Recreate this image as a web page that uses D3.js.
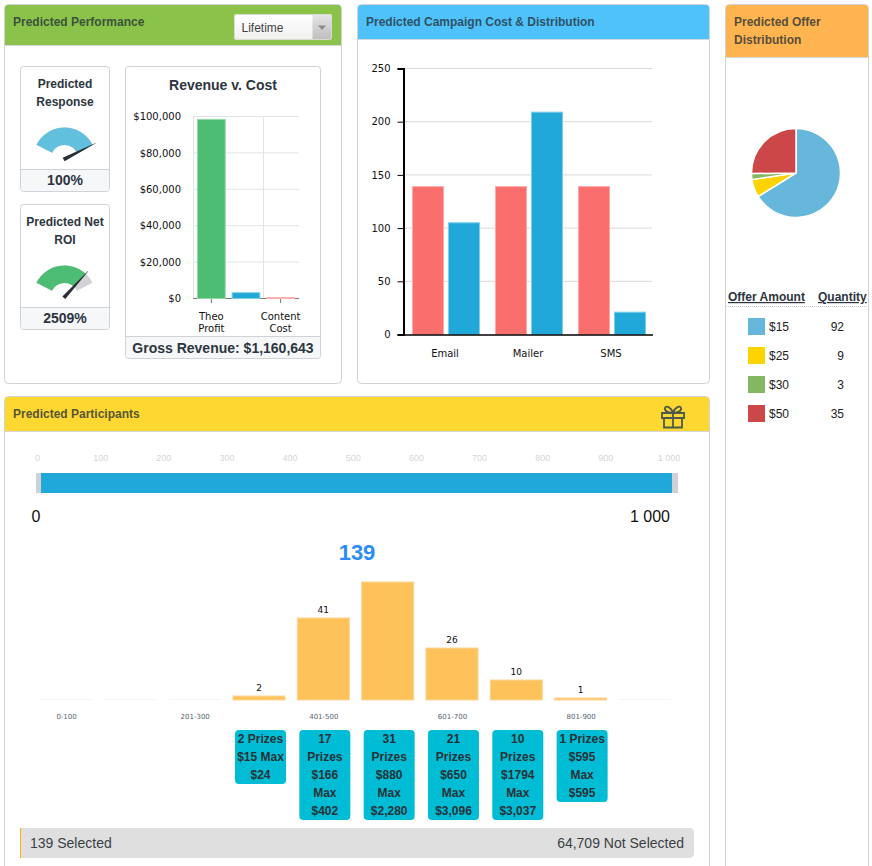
<!DOCTYPE html>
<html>
<head>
<meta charset="utf-8">
<script src="https://cdn.jsdelivr.net/npm/d3@7"></script>
<style>
html, body { margin: 0; padding: 0; background: #fff; overflow: hidden; }
svg { display: block; font-family: "Liberation Sans", Arial, sans-serif; }
.axis-text text { font-family: "DejaVu Sans", Verdana, sans-serif; font-size: 10px; fill: #111; }
.head { font-size: 12px; font-weight: bold; fill: rgba(38,50,56,0.8); }
.sub { font-size: 12px; font-weight: bold; fill: #2d3540; text-anchor: middle; }
.foot { font-size: 14px; font-weight: bold; fill: #2d3540; text-anchor: middle; }
</style>
</head>
<body>
<script>
var gaugeTitles = [["Predicted", "Response"], ["Predicted Net", "ROI"]];
var gaugeValues = [100, 2509];
var gaugeMax = [100, 3000];
var gaugeLabels = ["100%", "2509%"];
var gaugeColors = ["#62c0df", "#4dbd74"];

var revenueCats = ["Theo Profit", "", "Content Cost"];
var revenueVals = [98400, 3200, 500];
var revenueColors = ["#4dbd74", "#20a8d8", "#f86c6b"];
var revenueBorders = ["#8fd8a8", "#7fcfe8", "#fbb0b0"];
var revenueTicks = [0, 20000, 40000, 60000, 80000, 100000];

var costCats = ["Email", "Mailer", "SMS"];
var costRed = [139, 139, 139];
var costBlue = [105, 209, 21];
var costTicks = [0, 50, 100, 150, 200, 250];

var offerAmounts = ["$15", "$25", "$30", "$50"];
var offerQty = [92, 9, 3, 35];
var offerColors = ["#67b7dc", "#fdd400", "#84b761", "#cc4748"];

var sliderTicks = [0, 100, 200, 300, 400, 500, 600, 700, 800, 900, 1000];
var sliderRange = [0, 1000];

var histCats = ["0-100", "101-200", "201-300", "301-400", "401-500", "501-600", "601-700", "701-800", "801-900", "901-1000"];
var histVals = [0, 0, 0, 2, 41, 59, 26, 10, 1, 0];
var histShowCat = [1, 0, 1, 0, 1, 0, 1, 0, 1, 0];
var prizeLines = [
    null, null, null,
    ["2 Prizes", "$15 Max", "$24"],
    ["17", "Prizes", "$166", "Max", "$402"],
    ["31", "Prizes", "$880", "Max", "$2,280"],
    ["21", "Prizes", "$650", "Max", "$3,096"],
    ["10", "Prizes", "$1794", "Max", "$3,037"],
    ["1 Prizes", "$595", "Max", "$595"],
    null
];

var w = 872, h = 866;
var fmt = d3.format(",");
var svg = d3.select("body").append("svg").attr("width", w).attr("height", h);

function panel(x, y, pw, ph, headH, color, lines) {
    svg.append("rect")
        .attr("x", x + 0.5).attr("y", y + 0.5)
        .attr("width", pw).attr("height", ph).attr("rx", 4)
        .attr("fill", "#fff").attr("stroke", "#cfd3d7");
    var clip = "M" + (x + 1) + "," + (y + headH) + "V" + (y + 4) + "Q" + (x + 1) + "," + (y + 1) + " " + (x + 4) + "," + (y + 1)
        + "H" + (x + pw - 3) + "Q" + (x + pw) + "," + (y + 1) + " " + (x + pw) + "," + (y + 4) + "V" + (y + headH) + "Z";
    svg.append("path").attr("d", clip).attr("fill", color);
    svg.append("line").attr("x1", x + 1).attr("x2", x + pw).attr("y1", y + headH + 0.5).attr("y2", y + headH + 0.5).attr("stroke", "#d5d8da");
    lines.forEach(function(t, i) {
        svg.append("text").attr("class", "head").attr("x", x + 9).attr("y", y + 22 + i * 18).text(t);
    });
}

function box(x, y, bw, bh, footY, label, labelDy) {
    svg.append("rect").attr("x", x + 0.5).attr("y", y + 0.5).attr("width", bw).attr("height", bh).attr("rx", 3)
        .attr("fill", "#fff").attr("stroke", "#cfd3d7");
    svg.append("path")
        .attr("d", "M" + (x + 1) + "," + footY + "H" + (x + bw) + "V" + (y + bh - 3) + "Q" + (x + bw) + "," + (y + bh) + " " + (x + bw - 3) + "," + (y + bh)
            + "H" + (x + 4) + "Q" + (x + 1) + "," + (y + bh) + " " + (x + 1) + "," + (y + bh - 3) + "Z")
        .attr("fill", "#f6f7f9");
    svg.append("line").attr("x1", x + 1).attr("x2", x + bw).attr("y1", footY + 0.5).attr("y2", footY + 0.5).attr("stroke", "#cfd3d7");
    svg.append("text").attr("class", "foot").attr("x", x + bw / 2 + 0.5).attr("y", footY + labelDy).text(label);
}

// panels
panel(4, 4, 337, 379, 41, "#8bc34a", ["Predicted Performance"]);
panel(357, 4, 352, 379, 35, "#4fc1fb", ["Predicted Campaign Cost & Distribution"]);
panel(725, 4, 143, 900, 53, "#ffb44f", ["Predicted Offer", "Distribution"]);
panel(4, 396, 705, 500, 35, "#ffd731", ["Predicted Participants"]);

// lifetime select
var grad = svg.append("defs");
grad.append("linearGradient").attr("id", "selA").attr("x1", 0).attr("x2", 0).attr("y1", 0).attr("y2", 1)
    .selectAll("stop").data([["0%", "#ffffff"], ["100%", "#f0f0f0"]]).enter().append("stop")
    .attr("offset", function(d) { return d[0]; }).attr("stop-color", function(d) { return d[1]; });
grad.append("linearGradient").attr("id", "selB").attr("x1", 0).attr("x2", 0).attr("y1", 0).attr("y2", 1)
    .selectAll("stop").data([["0%", "#e6e6e6"], ["100%", "#bdbdbd"]]).enter().append("stop")
    .attr("offset", function(d) { return d[0]; }).attr("stop-color", function(d) { return d[1]; });
svg.append("rect").attr("x", 234).attr("y", 14).attr("width", 98).attr("height", 26).attr("rx", 3).attr("fill", "url(#selA)");
svg.append("path").attr("d", "M312.5,14H329Q332,14 332,17V37Q332,40 329,40H312.5Z").attr("fill", "url(#selB)");
svg.append("rect").attr("x", 234.5).attr("y", 14.5).attr("width", 97).attr("height", 25).attr("rx", 3).attr("fill", "none").attr("stroke", "#d8dcd0");
svg.append("path").attr("d", "M318,25.5H326L322,30Z").attr("fill", "#8a8a8a");
svg.append("text").attr("x", 241.5).attr("y", 32).attr("font-size", 12).attr("fill", "#444").text("Lifetime");

// gauges
var gaugeAngle = d3.scaleLinear().domain([0, 1]).range([-63 * Math.PI / 180, 63 * Math.PI / 180]);
var gaugeArc = d3.arc().innerRadius(14).outerRadius(31.5);
gaugeValues.forEach(function(v, i) {
    var top = 66 + i * 138;
    box(20, top, 89, 125, top + 103, gaugeLabels[i], 16);
    gaugeTitles[i].forEach(function(t, j) {
        svg.append("text").attr("class", "sub").attr("x", 65).attr("y", top + 22 + j * 18).text(t);
    });
    var g = svg.append("g").attr("transform", "translate(64.5," + (top + 93) + ")");
    var a = gaugeAngle(v / gaugeMax[i]);
    g.append("path").attr("d", gaugeArc({ startAngle: gaugeAngle(0), endAngle: gaugeAngle(1) })).attr("fill", "#d1d3d6");
    g.append("path").attr("d", gaugeArc({ startAngle: gaugeAngle(0), endAngle: a })).attr("fill", gaugeColors[i]);
    var needle = d3.line()([[-2, 1], [-0.2, -35], [0.2, -35], [2, 1]]);
    g.append("path").attr("d", needle).attr("fill", "#2a2e39")
        .attr("transform", "rotate(" + (a * 180 / Math.PI) + ")");
});

// revenue v cost
box(125, 66, 195, 292, 336, "Gross Revenue: $" + fmt(1160643), 17);
svg.append("text").attr("x", 223).attr("y", 90).attr("text-anchor", "middle").attr("font-size", 14).attr("font-weight", "bold")
    .attr("fill", "#2d3540").text("Revenue v. Cost");

var revX = d3.scaleBand().domain(d3.range(revenueCats.length)).range([193, 299]).paddingInner(0.2).paddingOuter(0.13);
var revY = d3.scaleLinear().domain([0, 100000]).range([298.5, 116.5]);
var revAxis = svg.append("g").attr("class", "axis-text").attr("transform", "translate(193,0)")
    .call(d3.axisLeft(revY).tickValues(revenueTicks).tickFormat(function(d) { return "$" + fmt(d); }).tickSize(0).tickPadding(12));
revAxis.select(".domain").remove();
svg.append("g").selectAll("line").data(revenueTicks).enter().append("line")
    .attr("x1", 193).attr("x2", 299)
    .attr("y1", revY).attr("y2", revY)
    .attr("stroke", function(d) { return d === 0 ? "#777" : "#e3e3e3"; });
svg.append("g").selectAll("line").data([193.5, 263.5]).enter().append("line")
    .attr("x1", function(d) { return d; }).attr("x2", function(d) { return d; })
    .attr("y1", 116.5).attr("y2", 298).attr("stroke", "#e3e3e3");
svg.append("g").selectAll("rect").data(revenueVals).enter().append("rect")
    .attr("x", function(d, i) { return revX(i); })
    .attr("y", revY)
    .attr("width", revX.bandwidth())
    .attr("height", function(d) { return revY(0) - revY(d); })
    .attr("fill", function(d, i) { return revenueColors[i]; })
    .attr("stroke", function(d, i) { return revenueBorders[i]; });
revenueCats.forEach(function(c, i) {
    if (!c) return;
    var cx = revX(i) + revX.bandwidth() / 2;
    svg.append("line").attr("x1", cx).attr("x2", cx).attr("y1", 299).attr("y2", 303).attr("stroke", "#777");
    c.split(" ").forEach(function(t, j) {
        svg.append("text").attr("x", cx).attr("y", 320 + j * 12).attr("text-anchor", "middle")
            .attr("font-family", "DejaVu Sans").attr("font-size", 10).attr("fill", "#111").text(t);
    });
});

// campaign cost
var costX = d3.scaleBand().domain(costCats).range([403.5, 652.5]).padding(0);
var costY = d3.scaleLinear().domain([0, 250]).range([334.5, 68.5]);
svg.append("g").selectAll("line").data(costTicks.slice(1)).enter().append("line")
    .attr("x1", 403).attr("x2", 652)
    .attr("y1", costY).attr("y2", costY)
    .attr("stroke", "#d9d9d9");
var costAxis = svg.append("g").attr("class", "axis-text").attr("transform", "translate(403.5,0)")
    .call(d3.axisLeft(costY).tickValues(costTicks).tickSize(6).tickPadding(7));
costAxis.select(".domain").attr("stroke", "#000").attr("stroke-width", 2);
function costBars(vals, fill, stroke, dx) {
    svg.append("g").selectAll("rect").data(vals).enter().append("rect")
        .attr("x", function(d, i) { return costX(costCats[i]) + dx; })
        .attr("y", costY)
        .attr("width", 31)
        .attr("height", function(d) { return costY(0) - costY(d); })
        .attr("fill", fill).attr("stroke", stroke);
}
costBars(costRed, "#fb6e6e", "#fda9a9", 9);
costBars(costBlue, "#20a8d8", "#7fcfe8", 45);
var costBottom = svg.append("g").attr("class", "axis-text").attr("transform", "translate(0,334.5)")
    .call(d3.axisBottom(costX).tickSize(0).tickPadding(15));
costBottom.select(".domain").attr("stroke", "#000").attr("stroke-width", 1.5);

// offer pie
var pie = d3.pie().sort(null);
var pieArc = d3.arc().innerRadius(0).outerRadius(44.5);
svg.append("g").attr("transform", "translate(796,173)").selectAll("path")
    .data(pie(offerQty)).enter().append("path")
    .attr("d", pieArc)
    .attr("fill", function(d, i) { return offerColors[i]; })
    .attr("stroke", "#fff").attr("stroke-width", 1.5);

svg.append("text").attr("x", 728).attr("y", 301).attr("font-size", 12).attr("font-weight", "bold")
    .attr("fill", "#2d3540").attr("text-decoration", "underline").text("Offer Amount");
svg.append("text").attr("x", 818).attr("y", 301).attr("font-size", 12).attr("font-weight", "bold")
    .attr("fill", "#2d3540").attr("text-decoration", "underline").text("Quantity");
svg.append("line").attr("x1", 726).attr("x2", 868).attr("y1", 306.5).attr("y2", 306.5)
    .attr("stroke", "#c8c8c8").attr("stroke-dasharray", "1,1");
var legendY = d3.scalePoint().domain(offerAmounts).range([327, 414]);
offerAmounts.forEach(function(a, i) {
    var y = legendY(a);
    svg.append("rect").attr("x", 748).attr("y", y - 9).attr("width", 17).attr("height", 17).attr("fill", offerColors[i]);
    svg.append("text").attr("x", 769).attr("y", y + 4).attr("font-size", 12).attr("fill", "#222").text(a);
    svg.append("text").attr("x", 844).attr("y", y + 4).attr("font-size", 12).attr("fill", "#222").attr("text-anchor", "end").text(offerQty[i]);
});

// gift icon
var gift = svg.append("g").attr("fill", "none").attr("stroke", "#4a5a4a").attr("stroke-width", 1.8);
gift.append("path").attr("d", "M662,413H684V418H662Z M664,418V427.5H682V418 M673,413V427.5");
gift.append("path").attr("d", "M673,413C669,413 664,411 665,408C666,405 671,407 673,413C675,407 680,405 681,408C682,411 677,413 673,413Z");

// slider
var sliderX = d3.scaleLinear().domain(sliderRange).range([37.5, 669]);
svg.append("g").selectAll("text").data(sliderTicks).enter().append("text")
    .attr("x", sliderX).attr("y", 461).attr("text-anchor", "middle")
    .attr("font-size", 9).attr("fill", "#d3d5d8")
    .text(function(d) { return d === 1000 ? "1 000" : d; });
svg.append("rect").attr("x", 36).attr("y", 473).attr("width", 642).attr("height", 20).attr("fill", "#cfd1d4");
svg.append("rect").attr("x", 41).attr("y", 473).attr("width", 631).attr("height", 20).attr("fill", "#20a8d8");
svg.append("text").attr("x", 36).attr("y", 522).attr("text-anchor", "middle").attr("font-size", 16).attr("fill", "#111").text(sliderRange[0]);
svg.append("text").attr("x", 670).attr("y", 522).attr("text-anchor", "end").attr("font-size", 16).attr("fill", "#111").text("1 000");
svg.append("text").attr("x", 357).attr("y", 560).attr("text-anchor", "middle").attr("font-size", 22).attr("font-weight", "bold")
    .attr("fill", "#2b8cf5").text(d3.sum(histVals));

// participants histogram
var histX = d3.scaleBand().domain(histCats).range([35.5, 675.5]).paddingInner(0.19).paddingOuter(0.07);
var histY = d3.scaleLinear().domain([0, 59]).range([700, 582]);
var histData = histVals.map(function(v, i) { return { cat: histCats[i], val: v, show: histShowCat[i] }; });
svg.append("g").selectAll("rect").data(histData).enter().append("rect")
    .attr("x", function(d) { return histX(d.cat); })
    .attr("y", function(d) { return d.val ? histY(d.val) : 699; })
    .attr("width", histX.bandwidth())
    .attr("height", function(d) { return d.val ? histY(0) - histY(d.val) : 1; })
    .attr("fill", function(d) { return d.val ? "#fec25a" : "#f5f5f5"; })
    .attr("stroke", function(d) { return d.val ? "#fdd69a" : "none"; });
svg.append("g").selectAll("text").data(histData.filter(function(d) { return d.val > 0 && d.val < 59; })).enter().append("text")
    .attr("x", function(d) { return histX(d.cat) + histX.bandwidth() / 2; })
    .attr("y", function(d) { return histY(d.val) - 5; })
    .attr("text-anchor", "middle").attr("font-size", 9).attr("font-family", "DejaVu Sans").attr("fill", "#111")
    .text(function(d) { return d.val; });
svg.append("g").selectAll("text").data(histData.filter(function(d) { return d.show; })).enter().append("text")
    .attr("x", function(d) { return histX(d.cat) + histX.bandwidth() / 2 + 0.5; })
    .attr("y", 719).attr("text-anchor", "middle")
    .attr("font-size", 7).attr("font-family", "DejaVu Sans").attr("fill", "#56626e")
    .text(function(d) { return d.cat; });

// prize cards
prizeLines.forEach(function(lines, i) {
    if (!lines) return;
    var cx = histX(histCats[i]) + histX.bandwidth() / 2 + 1.5;
    svg.append("rect").attr("x", cx - 25.5).attr("y", 730).attr("width", 51).attr("height", lines.length * 18).attr("rx", 4).attr("fill", "#00bcd4");
    lines.forEach(function(t, j) {
        svg.append("text").attr("x", cx).attr("y", 743 + j * 18).attr("text-anchor", "middle")
            .attr("font-size", 12).attr("font-weight", "bold").attr("fill", "#263238").text(t);
    });
});

// selected bar
svg.append("path").attr("d", "M20,828H689Q694,828 694,833V853Q694,858 689,858H20Z").attr("fill", "#dfdfdf");
svg.append("rect").attr("x", 20).attr("y", 828).attr("width", 1).attr("height", 30).attr("fill", "#ffb400");
svg.append("text").attr("x", 30).attr("y", 848).attr("font-size", 14).attr("fill", "#3a3f44").text("139 Selected");
svg.append("text").attr("x", 684).attr("y", 848).attr("font-size", 14).attr("fill", "#3a3f44").attr("text-anchor", "end").text(fmt(64709) + " Not Selected");
</script>
</body>
</html>
